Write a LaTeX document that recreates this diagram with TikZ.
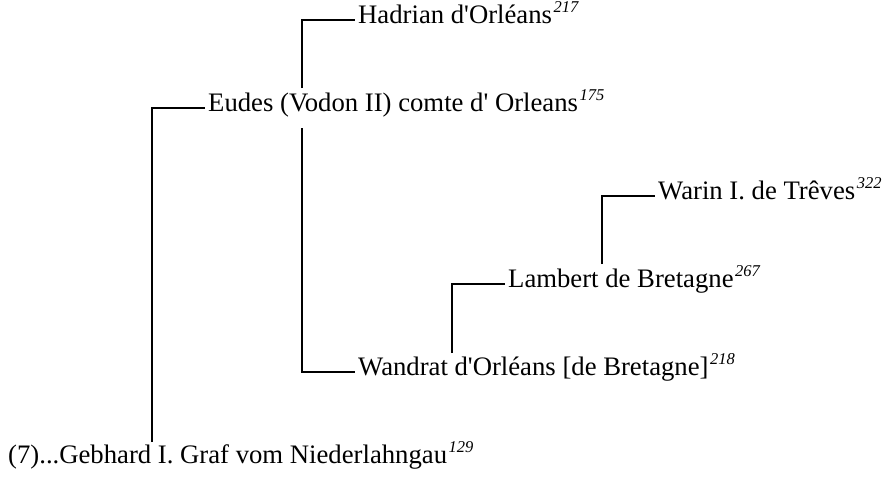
\documentclass[tikz,border=0pt]{standalone}
\usepackage{fontspec}
\setmainfont{Liberation Serif}
\newcommand{\idx}[1]{\kern1.5pt\raisebox{0.42em}{\fontsize{16.5}{20}\selectfont\itshape #1}}
\newcommand{\apo}{\textquotesingle}
\begin{document}
\begin{tikzpicture}[x=1pt,y=-1pt,
  person/.style={anchor=west,inner xsep=3pt,inner ysep=0pt,text height=0.85em,text depth=0.06em,
    font=\fontsize{26.7}{32}\selectfont},
  link/.style={draw=black,line width=1.2pt}]
\useasboundingbox (0,0) rectangle (891,479);
\node[person] (hadrian) at (355,20) {Hadrian d\apo Orléans\idx{217}};
\node[person] (eudes) at (205,108) {Eudes (Vodon II) comte d\apo{} Orleans\idx{175}};
\node[person] (warin) at (655,196) {Warin I. de Trêves\idx{322}};
\node[person] (lambert) at (505,284) {Lambert de Bretagne\idx{267}};
\node[person] (wandrat) at (355,372) {Wandrat d\apo Orléans [de Bretagne]\idx{218}};
\node[person] (gebhard) at (5,460) {(7)...Gebhard I. Graf vom Niederlahngau\idx{129}};
\coordinate (cHad) at (302,88);
\coordinate (cWan) at (302,128);
\coordinate (cEud) at (152,442);
\coordinate (cWar) at (602,264);
\coordinate (cLam) at (452,353);
\draw[link] (cHad) |- (hadrian.west);
\draw[link] (cWan) |- (wandrat.west);
\draw[link] (cEud) |- (eudes.west);
\draw[link] (cWar) |- (warin.west);
\draw[link] (cLam) |- (lambert.west);
\end{tikzpicture}
\end{document}
